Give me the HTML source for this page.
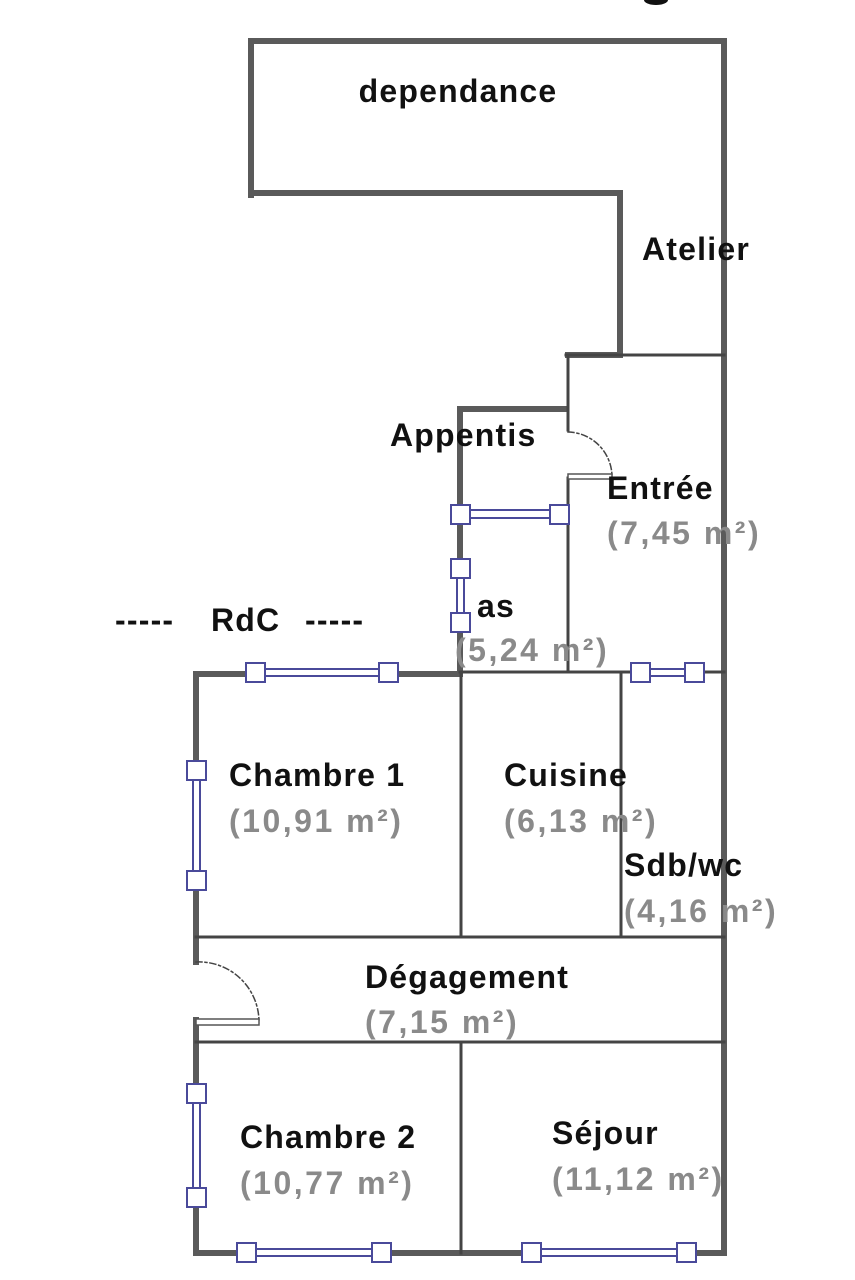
<!DOCTYPE html>
<html><head><meta charset="utf-8"><style>
html,body{margin:0;padding:0;background:#fff;}
svg{display:block;}
text{font-family:"Liberation Sans",sans-serif;}
.b{font-weight:bold;fill:#111;font-size:32px;letter-spacing:1.2px;}
.g{fill:#8a8a8a;font-size:32px;letter-spacing:2.5px;font-weight:bold;}
</style></head><body>
<svg width="855" height="1280" viewBox="0 0 855 1280" xmlns="http://www.w3.org/2000/svg">
<ellipse cx="656" cy="0" rx="12" ry="5" fill="#111"/>
<g stroke="#5a5a5a" fill="none" stroke-linecap="square">
 <g stroke-width="6">
  <polyline points="251,195 251,41 724,41 724,1253 196,1253 196,1020"/>
  <polyline points="251,193 620,193 620,355"/>
  <polyline points="196,962 196,674 460,674"/>
  <polyline points="460,672 460,409 566,409"/>
  <line x1="568" y1="355" x2="620" y2="355"/>
 </g>
 <g stroke-width="3" stroke="#444">
  <line x1="566" y1="355" x2="724" y2="355"/>
  <line x1="568" y1="355" x2="568" y2="430"/>
  <line x1="568" y1="478" x2="568" y2="672"/>
  <line x1="460" y1="672" x2="724" y2="672"/>
  <line x1="461" y1="672" x2="461" y2="935"/>
  <line x1="621" y1="672" x2="621" y2="935"/>
  <line x1="196" y1="937" x2="724" y2="937"/>
  <line x1="196" y1="1042" x2="724" y2="1042"/>
  <line x1="461" y1="1042" x2="461" y2="1253"/>
 </g>
 <path d="M568,432 A45,45 0 0 1 612,476" stroke="#444" stroke-width="1.5" stroke-dasharray="6,3,2,3"/>
 <rect x="568" y="474" width="44" height="5" stroke="#555" stroke-width="1.5" fill="#fff"/>
 <path d="M196,962 A60,60 0 0 1 259,1022" stroke="#444" stroke-width="1.5" stroke-dasharray="6,3,2,3"/>
 <rect x="196" y="1019" width="63" height="6" stroke="#555" stroke-width="1.5" fill="#fff"/>
</g>
<g stroke="#4a4a9a" stroke-width="2" fill="#fff">
 <rect x="460" y="510" width="100" height="8"/>
 <rect x="255" y="669" width="133" height="7"/>
 <rect x="640" y="669" width="55" height="7"/>
 <rect x="246" y="1249" width="135" height="7"/>
 <rect x="532" y="1249" width="154" height="7"/>
 <rect x="457" y="568" width="7" height="54"/>
 <rect x="193" y="770" width="7" height="110"/>
 <rect x="193" y="1093" width="7" height="104"/>
 <rect x="451" y="505" width="19" height="19"/><rect x="550" y="505" width="19" height="19"/>
 <rect x="451" y="559" width="19" height="19"/><rect x="451" y="613" width="19" height="19"/>
 <rect x="246" y="663" width="19" height="19"/><rect x="379" y="663" width="19" height="19"/>
 <rect x="631" y="663" width="19" height="19"/><rect x="685" y="663" width="19" height="19"/>
 <rect x="187" y="761" width="19" height="19"/><rect x="187" y="871" width="19" height="19"/>
 <rect x="187" y="1084" width="19" height="19"/><rect x="187" y="1188" width="19" height="19"/>
 <rect x="237" y="1243" width="19" height="19"/><rect x="372" y="1243" width="19" height="19"/>
 <rect x="522" y="1243" width="19" height="19"/><rect x="677" y="1243" width="19" height="19"/>
</g>
<text class="b" x="458" y="102" text-anchor="middle">dependance</text>
<text class="b" x="642" y="260">Atelier</text>
<text class="b" x="390" y="446">Appentis</text>
<text class="b" x="607" y="499">Entrée</text>
<text class="g" x="607" y="544">(7,45 m²)</text>
<text class="b" x="477" y="617">as</text>
<text class="g" x="455" y="661">(5,24 m²)</text>
<text class="b" x="115" y="631">-----</text>
<text class="b" x="211" y="631">RdC</text>
<text class="b" x="305" y="631">-----</text>
<text class="b" x="229" y="786">Chambre 1</text>
<text class="g" x="229" y="832">(10,91 m²)</text>
<text class="b" x="504" y="786">Cuisine</text>
<text class="g" x="504" y="832">(6,13 m²)</text>
<text class="b" x="624" y="876">Sdb/wc</text>
<text class="g" x="624" y="922">(4,16 m²)</text>
<text class="b" x="365" y="988">Dégagement</text>
<text class="g" x="365" y="1033">(7,15 m²)</text>
<text class="b" x="240" y="1148">Chambre 2</text>
<text class="g" x="240" y="1194">(10,77 m²)</text>
<text class="b" x="552" y="1144">Séjour</text>
<text class="g" x="552" y="1190">(11,12 m²)</text>
</svg>
</body></html>
